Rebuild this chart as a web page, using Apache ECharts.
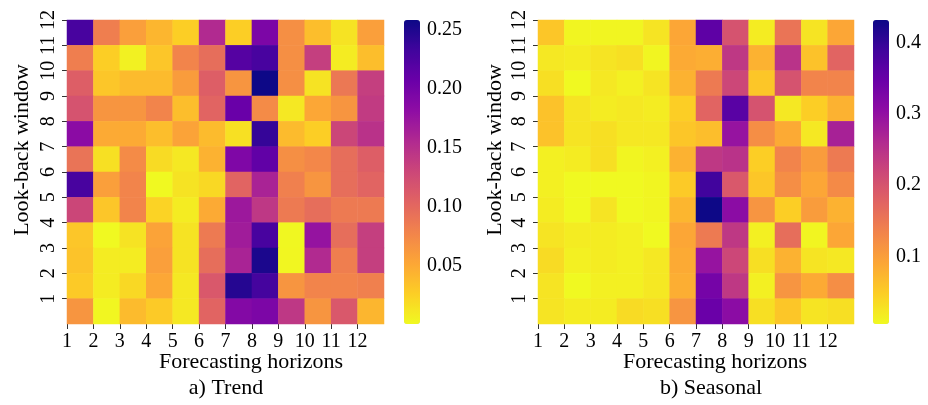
<!DOCTYPE html>
<html>
<head>
<meta charset="utf-8">
<script src="https://cdn.jsdelivr.net/npm/echarts@6/dist/echarts.min.js"></script>
<style>
  html, body { margin: 0; padding: 0; background: #ffffff; }
  #chart { width: 928px; height: 405px; }
</style>
</head>
<body>
<div id="chart"></div>
<script>
// Tick labels for both axes
const horizons = ['1', '2', '3', '4', '5', '6', '7', '8', '9', '10', '11', '12'];
const windows = ['1', '2', '3', '4', '5', '6', '7', '8', '9', '10', '11', '12'];

// Trend error grid, rows listed from the top row down, columns = horizons 1..12
const trendRows = [
  [0.228, 0.083, 0.058, 0.042, 0.027, 0.155, 0.027, 0.194, 0.070, 0.037, 0.014, 0.058],
  [0.083, 0.027, 0.006, 0.032, 0.078, 0.096, 0.220, 0.228, 0.070, 0.137, 0.009, 0.037],
  [0.109, 0.032, 0.039, 0.039, 0.060, 0.109, 0.065, 0.258, 0.070, 0.014, 0.088, 0.137],
  [0.119, 0.065, 0.065, 0.078, 0.037, 0.104, 0.207, 0.073, 0.011, 0.052, 0.065, 0.140],
  [0.184, 0.050, 0.050, 0.037, 0.055, 0.039, 0.016, 0.238, 0.039, 0.027, 0.130, 0.148],
  [0.091, 0.016, 0.073, 0.019, 0.011, 0.045, 0.192, 0.212, 0.070, 0.076, 0.096, 0.109],
  [0.228, 0.058, 0.078, 0.001, 0.014, 0.021, 0.104, 0.161, 0.081, 0.065, 0.096, 0.104],
  [0.130, 0.032, 0.078, 0.024, 0.009, 0.050, 0.171, 0.143, 0.086, 0.096, 0.086, 0.086],
  [0.032, 0.001, 0.014, 0.055, 0.014, 0.086, 0.168, 0.228, 0.002, 0.176, 0.096, 0.137],
  [0.034, 0.009, 0.009, 0.058, 0.014, 0.096, 0.161, 0.251, 0.003, 0.155, 0.083, 0.137],
  [0.029, 0.009, 0.021, 0.052, 0.011, 0.114, 0.246, 0.230, 0.065, 0.078, 0.078, 0.081],
  [0.065, 0.003, 0.039, 0.029, 0.011, 0.104, 0.189, 0.194, 0.143, 0.065, 0.114, 0.042]
];

// Seasonal error grid, same layout
const seasonalRows = [
  [0.056, 0.009, 0.009, 0.009, 0.026, 0.090, 0.359, 0.201, 0.018, 0.154, 0.026, 0.090],
  [0.022, 0.018, 0.026, 0.031, 0.009, 0.086, 0.082, 0.240, 0.078, 0.248, 0.061, 0.176],
  [0.031, 0.005, 0.022, 0.014, 0.026, 0.078, 0.146, 0.219, 0.056, 0.201, 0.133, 0.133],
  [0.061, 0.026, 0.018, 0.022, 0.018, 0.048, 0.176, 0.364, 0.201, 0.022, 0.048, 0.078],
  [0.061, 0.026, 0.031, 0.022, 0.022, 0.056, 0.065, 0.295, 0.120, 0.086, 0.022, 0.274],
  [0.014, 0.018, 0.031, 0.009, 0.014, 0.078, 0.240, 0.248, 0.048, 0.133, 0.103, 0.146],
  [0.014, 0.005, 0.005, 0.005, 0.009, 0.052, 0.389, 0.193, 0.056, 0.120, 0.090, 0.125],
  [0.018, 0.005, 0.026, 0.005, 0.009, 0.073, 0.432, 0.308, 0.112, 0.048, 0.103, 0.078],
  [0.026, 0.018, 0.018, 0.014, 0.005, 0.090, 0.146, 0.240, 0.014, 0.163, 0.009, 0.090],
  [0.035, 0.014, 0.018, 0.014, 0.022, 0.086, 0.295, 0.219, 0.031, 0.078, 0.026, 0.022],
  [0.026, 0.005, 0.014, 0.014, 0.022, 0.082, 0.334, 0.240, 0.014, 0.112, 0.086, 0.120],
  [0.026, 0.018, 0.018, 0.035, 0.031, 0.112, 0.347, 0.308, 0.031, 0.056, 0.026, 0.031]
];

// Colour bar ticks
const trendTicks = [0.05, 0.10, 0.15, 0.20, 0.25];
const seasonalTicks = [0.1, 0.2, 0.3, 0.4];

// Reversed plasma colour map: low = yellow, high = deep blue
const plasmaR = ['#f0f921', '#fcce25', '#fca636', '#f2844b', '#e16462', '#cc4778',
                 '#b12a90', '#8f0da4', '#6a00a8', '#41049d', '#0d0887'];

const FONT = 'Liberation Serif';
const TICK_SIZE = 20;
const NAME_SIZE = 22;

function toCells(rows) {
  const out = [];
  rows.forEach((row, r) => {
    row.forEach((v, c) => out.push([c, rows.length - 1 - r, v]));
  });
  return out;
}
function extent(rows) {
  const all = rows.flat();
  return [Math.min(...all), Math.max(...all)];
}

const trendExt = extent(trendRows);
const seasonalExt = extent(seasonalRows);

const panels = [
  { left: 67, width: 317, barLeft: 404 },
  { left: 538, width: 316, barLeft: 873 }
];
const TOP = 20, HEIGHT = 304, BAR_W = 16;

const tickLabelStyle = { fontFamily: FONT, fontSize: TICK_SIZE, color: '#000' };
const xTickIdx = horizons.map((_, i) => i);
const yTickIdx = windows.map((_, i) => i + 1);

const grids = [];
const xAxes = [];
const yAxes = [];

panels.forEach((p, i) => {
  grids.push({ left: p.left, top: TOP, width: p.width, height: HEIGHT });
  // category axes carry the cells
  xAxes.push({ gridIndex: i, type: 'category', data: horizons, show: false });
  yAxes.push({ gridIndex: i, type: 'category', data: windows, show: false });
  // value axes draw ticks on the cell edges
  xAxes.push({
    gridIndex: i, type: 'value', min: 0, max: 12, position: 'bottom',
    axisLine: { show: false }, splitLine: { show: false },
    axisTick: { show: true, length: 5, customValues: xTickIdx, lineStyle: { color: '#333', width: 1 } },
    axisLabel: { customValues: xTickIdx, formatter: v => horizons[Math.round(v)], margin: 8, ...tickLabelStyle }
  });
  yAxes.push({
    gridIndex: i, type: 'value', min: 0, max: 12, position: 'left',
    axisLine: { show: false }, splitLine: { show: false },
    axisTick: { show: true, length: 5, customValues: yTickIdx, lineStyle: { color: '#333', width: 1 } },
    axisLabel: { customValues: yTickIdx, rotate: 90, formatter: v => windows[Math.round(v) - 1], margin: 8, ...tickLabelStyle }
  });
});

// colour bar axes
[[trendExt, trendTicks, 2], [seasonalExt, seasonalTicks, 1]].forEach(([ext, ticks, dec], k) => {
  const p = panels[k];
  grids.push({ left: p.barLeft, top: TOP, width: BAR_W, height: HEIGHT });
  xAxes.push({ gridIndex: 2 + k, type: 'value', min: 0, max: 1, show: false });
  yAxes.push({
    gridIndex: 2 + k, type: 'value', min: ext[0], max: ext[1], position: 'right',
    axisLine: { show: false }, splitLine: { show: false },
    axisTick: { show: true, length: 4, customValues: ticks, lineStyle: { color: '#333', width: 1 } },
    axisLabel: { customValues: ticks, formatter: v => v.toFixed(dec), margin: 7, ...tickLabelStyle }
  });
});

const visualMaps = [trendExt, seasonalExt].map((ext, k) => ({
  type: 'continuous', seriesIndex: k, min: ext[0], max: ext[1],
  orient: 'vertical', left: panels[k].barLeft, top: TOP, padding: 0,
  itemWidth: BAR_W, itemHeight: HEIGHT, calculable: false, realtime: false,
  showLabel: false, text: null, hoverLink: false,
  inRange: { color: plasmaR }
}));

const textEl = (text, x, y, size, rot) => ({
  type: 'text', x: x, y: y, rotation: rot || 0, silent: true,
  style: { text: text, fontFamily: FONT, fontSize: size, fill: '#000', align: 'center', verticalAlign: 'middle' }
});

const chart = echarts.init(document.getElementById('chart'), null, { renderer: 'canvas' });
chart.setOption({
  animation: false,
  backgroundColor: '#ffffff',
  grid: grids,
  xAxis: xAxes,
  yAxis: yAxes,
  visualMap: visualMaps,
  series: [
    { type: 'heatmap', xAxisIndex: 0, yAxisIndex: 0, data: toCells(trendRows), emphasis: { disabled: true } },
    { type: 'heatmap', xAxisIndex: 2, yAxisIndex: 2, data: toCells(seasonalRows), emphasis: { disabled: true } }
  ],
  graphic: [
    textEl('Look-back window', 22, 150, NAME_SIZE, Math.PI / 2),
    textEl('Look-back window', 495, 150, NAME_SIZE, Math.PI / 2),
    textEl('Forecasting horizons', 251, 362, NAME_SIZE),
    textEl('Forecasting horizons', 715, 362, NAME_SIZE),
    textEl('a) Trend', 226, 388, NAME_SIZE),
    textEl('b) Seasonal', 711, 388, NAME_SIZE)
  ]
});
</script>
</body>
</html>
